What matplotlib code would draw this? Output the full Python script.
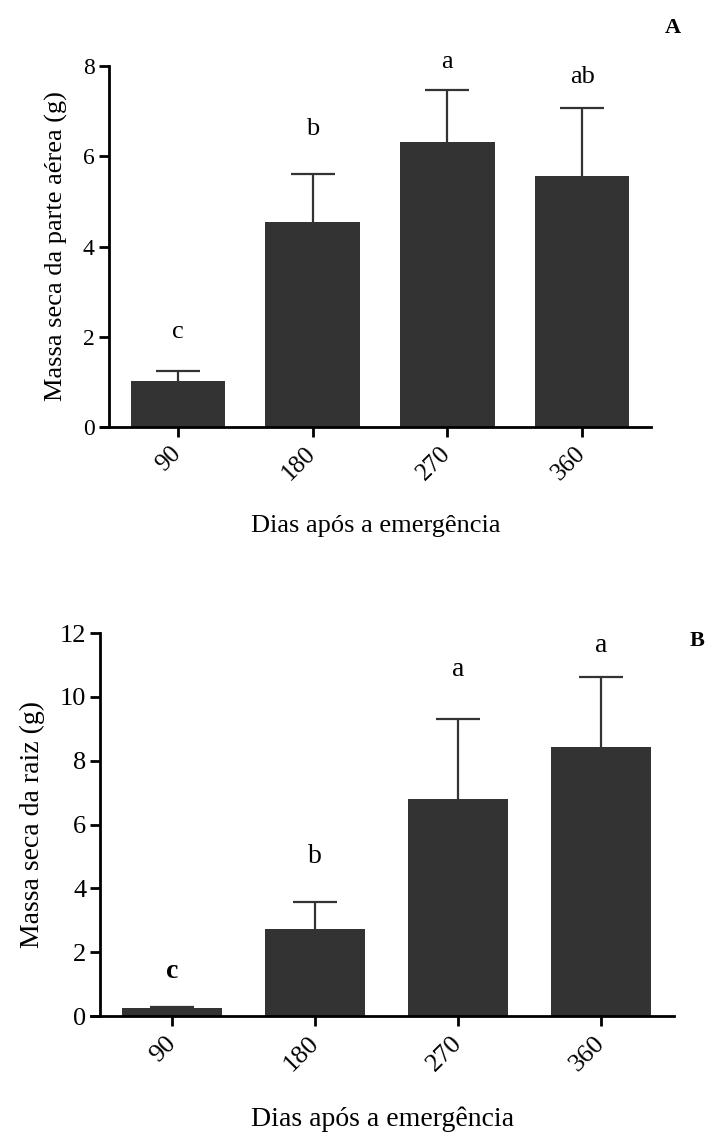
import matplotlib
matplotlib.use("Agg")
import matplotlib.pyplot as plt
import numpy as np

# Data
dias = ['90', '180', '270', '360']
parte_aerea = [1.01, 4.54, 6.32, 5.57]
parte_aerea_sup = [0.24, 1.07, 1.14, 1.49]
letras_aerea = ['c', 'b', 'a', 'ab']
letras_aerea_y = [2.1, 6.6, 8.1, 7.75]

raiz = [0.24, 2.72, 6.81, 8.43]
raiz_sup = [0.03, 0.85, 2.51, 2.21]
letras_raiz = ['c', 'b', 'a', 'a']
letras_raiz_y = [1.4, 5.0, 10.85, 11.6]

plt.rcParams['font.family'] = ['Liberation Serif', 'DejaVu Serif']
bar_color = '#333333'

fig = plt.figure(figsize=(7.11, 11.35), dpi=100)


def painel(ax, valores, sup, letras, letras_y, ylim, yticks, ylabel, tick_fs, xt_fs, lab_fs, let_fs, bold_c=False):
    x = np.arange(len(dias))
    ax.bar(x, valores, width=0.7, color=bar_color, zorder=2)
    _, caps, _ = ax.errorbar(x, valores, yerr=[np.zeros(len(sup)), sup], fmt='none',
                             ecolor=bar_color, elinewidth=1.6, capsize=16, capthick=1.6, zorder=1)
    caps[0].set_visible(False)  # sem barra inferior
    for i, (l, ly) in enumerate(zip(letras, letras_y)):
        w = 'bold' if (bold_c and l == 'c') else 'normal'
        ax.text(i, ly, l, ha='center', va='center', fontsize=let_fs, fontweight=w)
    ax.set_xlim(-0.57, 3.51)
    ax.set_ylim(*ylim)
    ax.tick_params(direction='out', length=7, width=2, pad=3, labelsize=tick_fs)
    ax.tick_params(axis='x', pad=10)
    ax.set_yticks(yticks)
    ax.set_xticks(x)
    ax.set_xticklabels(dias, rotation=45, ha='right', va='center',
                       rotation_mode='anchor', fontsize=xt_fs)
    for s in ['top', 'right']:
        ax.spines[s].set_visible(False)
    for s in ['left', 'bottom']:
        ax.spines[s].set_linewidth(2)
    ax.set_ylabel(ylabel, fontsize=lab_fs, labelpad=11)
    ax.set_xlabel('Dias após a emergência', fontsize=lab_fs, labelpad=22)


# Painel A
ax1 = fig.add_axes([0.142, 0.6238, 0.7736, 0.318])
painel(ax1, parte_aerea, parte_aerea_sup, letras_aerea, letras_aerea_y,
       (0, 8), [0, 2, 4, 6, 8], 'Massa seca da parte aérea (g)', 17, 18, 19, 19)
ax1.spines['left'].set_position(('axes', 0.014))
fig.text(673 / 711, 1 - 28 / 1135, 'A', fontsize=16, fontweight='bold', ha='center', va='center')

# Painel B
ax2 = fig.add_axes([0.128, 0.1048, 0.820, 0.3374])
painel(ax2, raiz, raiz_sup, letras_raiz, letras_raiz_y,
       (0, 12), [0, 2, 4, 6, 8, 10, 12], 'Massa seca da raiz (g)', 19, 19, 20, 20, bold_c=True)
ax2.spines['left'].set_position(('axes', 0.016))
fig.text(697 / 711, 1 - 641 / 1135, 'B', fontsize=16, fontweight='bold', ha='center', va='center')

fig.savefig('out.png', dpi=100)
